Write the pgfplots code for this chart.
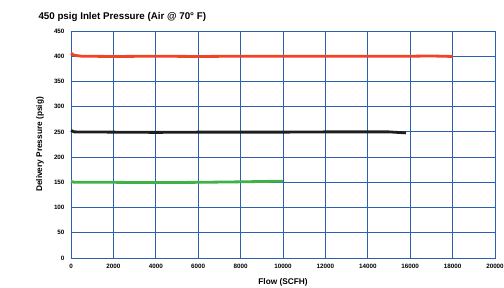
\documentclass[border=0pt]{standalone}
\usepackage{fontspec}
\setmainfont{Liberation Sans}
\usepackage{pgfplots}
\pgfplotsset{compat=1.18}
\definecolor{gridblue}{RGB}{45,95,175}
\definecolor{lred}{RGB}{240,68,38}
\definecolor{lblack}{RGB}{30,30,30}
\definecolor{lgreen}{RGB}{62,178,72}
\begin{document}
\begin{tikzpicture}
\path[use as bounding box] (-71bp,-30bp) rectangle (433bp,258bp);
\begin{axis}[
  scale only axis,
  width=424bp, height=227bp,
  xmin=0, xmax=20000, ymin=0, ymax=450,
  xtick={0,2000,...,20000},
  ytick={0,50,...,450},
  scaled x ticks=false,
  xticklabel style={/pgf/number format/1000 sep={}},
  /pgf/number format/assume math mode=true,
  tick label style={font=\fontsize{6.3}{7}\selectfont\bfseries},
  major tick length=0pt,
  grid=major,
  major grid style={gridblue, line width=0.9bp},
  axis line style={gridblue, line width=0.9bp},
  xticklabel shift=3bp,
  yticklabel shift=3bp,
  xlabel={Flow (SCFH)},
  label style={font=\fontsize{8.3}{10}\selectfont\bfseries},
  xlabel style={at={(axis description cs:0.5,-0.106)}, anchor=center},
  clip=false,
]
\addplot[lred, line width=2.8bp] coordinates {
 (0,406) (150,402) (500,400) (2000,399.5) (4000,400) (6000,399.5) (8000,400) (10000,400) (12000,400) (14000,400) (16000,400) (17000,400.5) (18000,399.5)
};
\addplot[lblack, line width=2.8bp] coordinates {
 (0,253) (150,250) (2000,249.5) (4000,249) (6000,249.5) (8000,249.5) (10000,249.5) (12000,250) (14000,250) (15000,250) (15800,248)
};
\addplot[lgreen, line width=2.8bp] coordinates {
 (0,152) (150,150) (2000,150) (4000,149.5) (6000,150) (8000,151) (9500,152) (10000,152)
};
\end{axis}
\node[rotate=90, anchor=center, font=\fontsize{8.3}{10}\selectfont\bfseries] at (-31bp,113.5bp) {Delivery Pressure (psig)};
\node[anchor=west, font=\fontsize{9.8}{12}\selectfont\bfseries] at (-36bp,241bp) {450 psig Inlet Pressure (Air @ 70° F)};
\end{tikzpicture}
\end{document}
